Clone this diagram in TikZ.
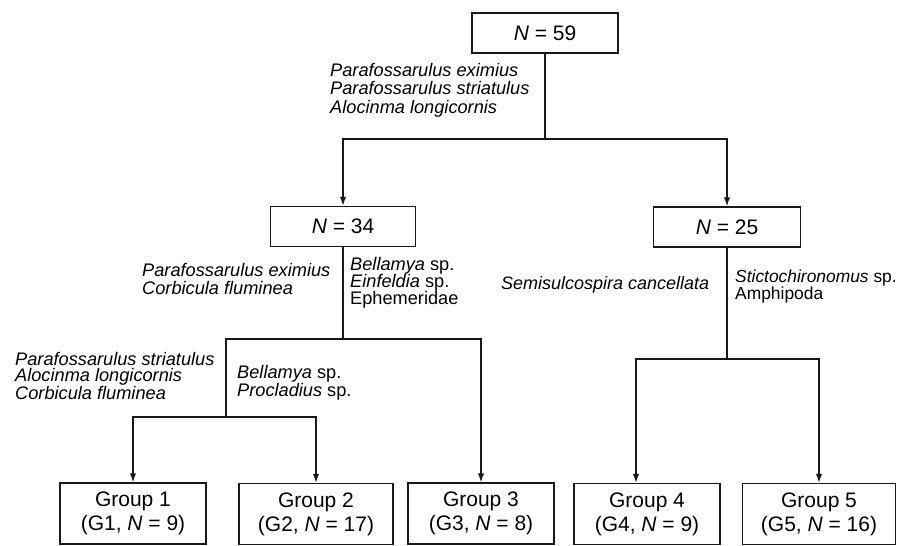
\documentclass[tikz,border=0pt]{standalone}
\usepackage{fontspec}
\setmainfont{Liberation Sans}
\usetikzlibrary{arrows.meta}
\begin{document}
\begin{tikzpicture}[x=1pt,y=-1pt,
  box/.style={draw=black!90,line width=1.4pt,minimum height=40pt,inner sep=0pt,
    font=\fontsize{21}{24}\selectfont,align=center},
  grp/.style={box,minimum height=61pt},
  lab/.style={inner sep=0pt,anchor=west,align=left,font=\fontsize{18.2}{18}\selectfont\itshape},
  con/.style={line width=1.4pt,draw=black!90},
  arr/.style={con,-{Latex[length=9pt,width=6.5pt]}}]
\useasboundingbox (0,0) rectangle (902,546);
% boxes
\node[box,minimum width=146pt] (n59) at (545,33) {\textit{N} = 59};
\node[box,minimum width=145pt] (n34) at (343,226.5) {\textit{N} = 34};
\node[box,minimum width=147pt] (n25) at (727,227) {\textit{N} = 25};
\node[grp,minimum width=146pt] (g1) at (133,513.5) {Group 1\\(G1, \textit{N} = 9)};
\node[grp,minimum width=154pt] (g2) at (316,514) {Group 2\\(G2, \textit{N} = 17)};
\node[grp,minimum width=146pt] (g3) at (481,513.5) {Group 3\\(G3, \textit{N} = 8)};
\node[grp,minimum width=146pt] (g4) at (647,514) {Group 4\\(G4, \textit{N} = 9)};
\node[grp,minimum width=153pt] (g5) at (819,514) {Group 5\\(G5, \textit{N} = 16)};
% junctions
\coordinate (j0) at (545,139);
\coordinate (j1) at (343,339);
\coordinate (j2) at (226,339);
\coordinate (j3) at (226,417);
\coordinate (j4) at (727,359);
% connectors
\draw[con] (n59.south) -- (j0);
\draw[arr] (j0) -| (n34.north);
\draw[arr] (j0) -| (n25.north);
\draw[con] (n34.south) -- (j1);
\draw[arr] (j1) -| (g3.north);
\draw[con] (j1) -- (j2) -- (j3);
\draw[arr] (j3) -| (g1.north);
\draw[arr] (j3) -| (g2.north);
\draw[con] (n25.south) -- (j4);
\draw[arr] (j4) -| ([xshift=-11pt]g4.north);
\draw[arr] (j4) -| (g5.north);
% labels
\node[lab,font=\fontsize{18.2}{18.5}\selectfont\itshape] (t1) at (330,90) {Parafossarulus eximius\\Parafossarulus striatulus\\Alocinma longicornis};
\node[lab] (t2) at (142,279) {Parafossarulus eximius\\Corbicula fluminea};
\node[lab,font=\fontsize{18.2}{17}\selectfont] (t3) at (350,283) {\textit{Bellamya} sp.\\\textit{Einfeldia} sp.\\Ephemeridae};
\node[lab,font=\fontsize{18.2}{16.5}\selectfont\itshape] (t4) at (15,376) {Parafossarulus striatulus\\Alocinma longicornis\\Corbicula fluminea};
\node[lab,font=\fontsize{18.2}{16.5}\selectfont] (t5) at (237,383) {\textit{Bellamya} sp.\\\textit{Procladius} sp.};
\node[lab,font=\fontsize{18}{18}\selectfont\itshape] (t6) at (501,285) {Semisulcospira cancellata};
\node[lab,font=\fontsize{17.4}{17}\selectfont] (t7) at (735,286) {\textit{Stictochironomus} sp.\\Amphipoda};
\end{tikzpicture}
\end{document}
